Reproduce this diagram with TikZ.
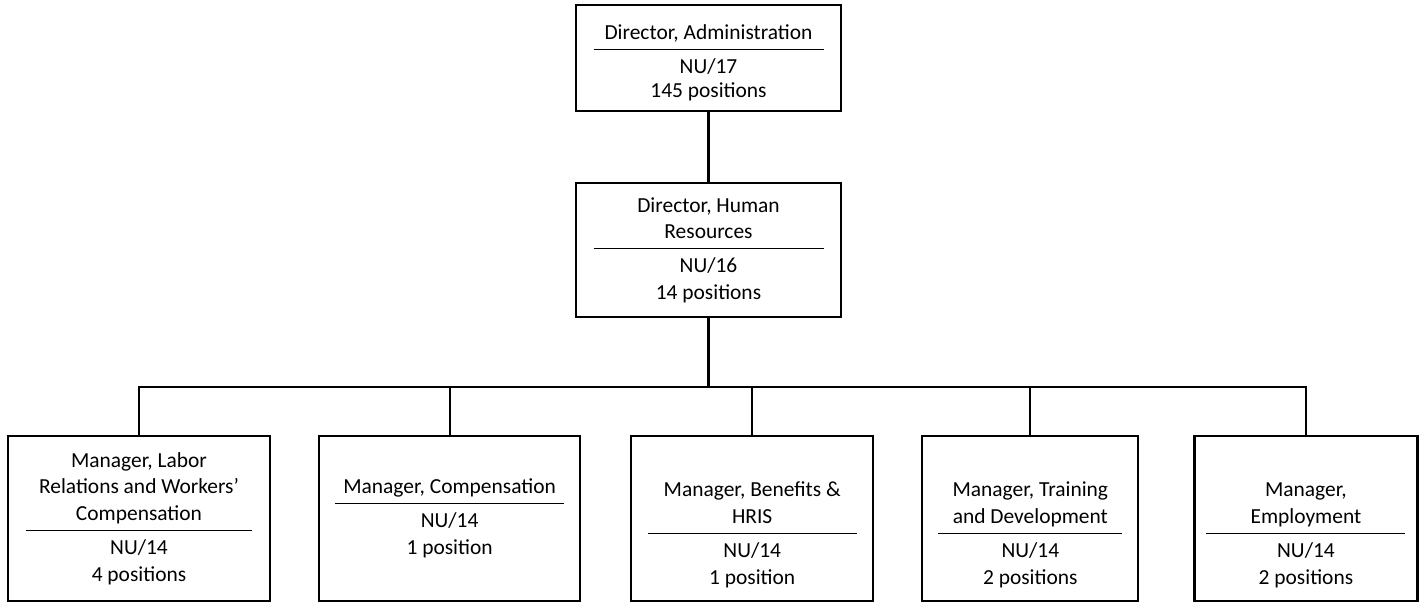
\documentclass[tikz,border=0pt]{standalone}
\usepackage{fontspec}
\setmainfont{Carlito}
\usetikzlibrary{positioning}
\newcommand{\lowtitle}{\rule{0pt}{0.95cm}}

\begin{document}
\begin{tikzpicture}[
        post/.style={draw, rectangle, line width=1.2pt, align=center, font=\fontsize{12.2}{15.3}\selectfont, inner sep=0pt},
        mgr/.style={post, minimum height=3.3cm},
        link/.style={line width=1.2pt}
    ]
        \useasboundingbox (0, 0) rectangle (28.48, 12.08);

        % Directors
        \node[post, minimum width=5.3cm, minimum height=2.12cm] (admin) at (14.17, 10.92) {\rule{0pt}{0.5cm}Director, Administration\\[-9.6pt]\rule{4.6cm}{0.6pt}\\[-1.8pt]NU/17\\[-1.5pt]145 positions};
        \node[post, minimum width=5.3cm, minimum height=2.68cm, below=1.4cm of admin] (hr) {Director, Human\\Resources\\[-9.6pt]\rule{4.6cm}{0.6pt}\\[-1.8pt]NU/16\\14 positions};

        % Managers
        \node[mgr, minimum width=5.24cm] (labor) at (2.78, 1.71) {Manager, Labor\\Relations and Workers’\\Compensation\\[-9.6pt]\rule{4.52cm}{0.6pt}\\[-1.8pt]NU/14\\4 positions};
        \node[mgr, minimum width=5.22cm, right=0.94cm of labor] (comp) {Manager, Compensation\\[-9.6pt]\rule{4.58cm}{0.6pt}\\[-1.8pt]NU/14\\1 position};
        \node[mgr, minimum width=4.84cm, right=0.98cm of comp] (benefits) {\lowtitle Manager, Benefits \&\\HRIS\\[-9.6pt]\rule{4.18cm}{0.6pt}\\[-1.8pt]NU/14\\1 position};
        \node[mgr, minimum width=4.32cm, right=0.94cm of benefits] (training) {\lowtitle Manager, Training\\and Development\\[-9.6pt]\rule{3.68cm}{0.6pt}\\[-1.8pt]NU/14\\2 positions};
        \node[mgr, minimum width=4.46cm, right=1.08cm of training] (employ) {\lowtitle Manager,\\Employment\\[-9.6pt]\rule{3.98cm}{0.6pt}\\[-1.8pt]NU/14\\2 positions};

        % Lines
        \coordinate (bus) at (0, 4.34);
        \draw[link] (admin) -- (hr);
        \foreach \m in {labor, comp, benefits, training, employ}
            \draw[link] (hr.south) -- (hr.south |- bus) -| (\m.north);
    \end{tikzpicture}
\end{document}
